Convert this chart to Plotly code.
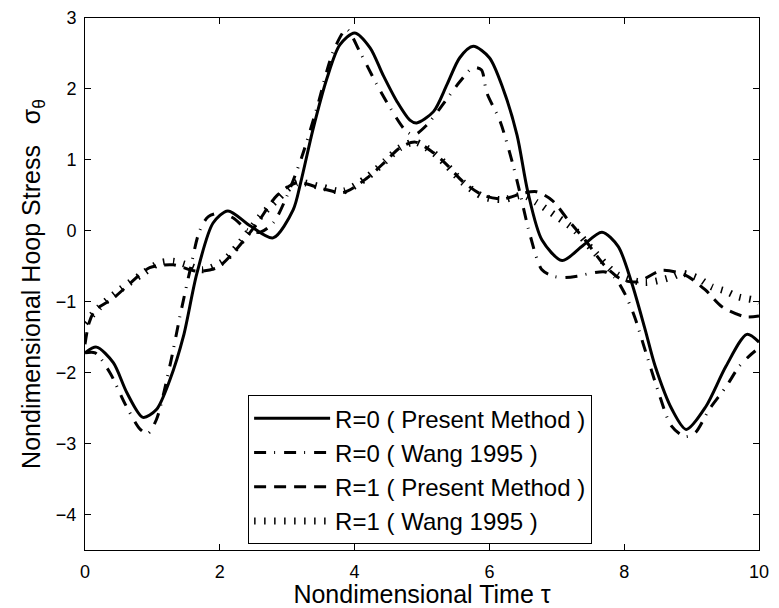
import plotly.graph_objects as go

# R=0 ( Present Method )
x_r0p = [0, 0.17, 0.42, 0.62, 0.86, 1.06, 1.26, 1.46, 1.66, 1.9, 2.12, 2.45, 2.79, 3.09, 3.2, 3.38, 3.59, 3.78, 4.0, 4.23, 4.42, 4.63, 4.82, 4.92, 5.17, 5.37, 5.56, 5.76, 6.0, 6.2, 6.41, 6.57, 6.78, 7.08, 7.37, 7.67, 7.91, 8.11, 8.31, 8.46, 8.71, 8.92, 9.21, 9.51, 9.82, 10]
y_r0p = [-1.72, -1.64, -1.86, -2.28, -2.63, -2.52, -2.1, -1.49, -0.6, 0.11, 0.28, 0.07, -0.1, 0.3, 0.68, 1.42, 2.15, 2.62, 2.79, 2.58, 2.2, 1.82, 1.56, 1.52, 1.68, 2.06, 2.44, 2.6, 2.44, 2.01, 1.35, 0.55, -0.13, -0.42, -0.22, -0.02, -0.22, -0.73, -1.39, -1.91, -2.52, -2.8, -2.48, -1.91, -1.46, -1.57]

# R=0 ( Wang 1995 )
x_r0w = [0, 0.15, 0.37, 0.6, 0.82, 0.93, 1.06, 1.26, 1.41, 1.56, 1.7, 1.83, 2.0, 2.2, 2.4, 2.6, 2.8, 3.0, 3.22, 3.44, 3.68, 3.88, 4.08, 4.33, 4.53, 4.75, 4.88, 5.07, 5.27, 5.56, 5.76, 5.88, 5.96, 6.16, 6.35, 6.45, 6.6, 6.78, 6.95, 7.1, 7.3, 7.5, 7.72, 7.86, 8.0, 8.15, 8.3, 8.5, 8.7, 8.9, 9.05, 9.26, 9.51, 9.7, 9.85, 10]
y_r0w = [-1.72, -1.72, -2.0, -2.45, -2.8, -2.86, -2.66, -1.9, -1.2, -0.55, 0.0, 0.2, 0.25, 0.18, 0.02, -0.02, 0.12, 0.5, 1.05, 1.73, 2.52, 2.84, 2.52, 2.06, 1.73, 1.42, 1.35, 1.49, 1.73, 2.1, 2.3, 2.27, 1.95, 1.54, 0.93, 0.55, -0.05, -0.55, -0.64, -0.66, -0.64, -0.6, -0.58, -0.66, -0.87, -1.2, -1.65, -2.25, -2.75, -2.9, -2.85, -2.52, -2.2, -1.92, -1.77, -1.65]

# R=1 ( Present Method )
x_r1p = [0, 0.06, 0.15, 0.42, 0.67, 0.96, 1.31, 1.66, 1.96, 2.2, 2.55, 2.85, 3.15, 3.5, 3.83, 4.18, 4.45, 4.67, 4.9, 5.17, 5.37, 5.61, 5.91, 6.2, 6.5, 6.7, 6.93, 7.17, 7.42, 7.72, 7.97, 8.2, 8.55, 8.9, 9.2, 9.45, 9.79, 10]
y_r1p = [-1.6, -1.3, -1.12, -0.95, -0.74, -0.52, -0.48, -0.57, -0.52, -0.31, 0.1, 0.5, 0.68, 0.6, 0.54, 0.74, 0.97, 1.17, 1.25, 1.1, 0.93, 0.69, 0.5, 0.45, 0.53, 0.55, 0.43, 0.15, -0.13, -0.5, -0.69, -0.72, -0.56, -0.62, -0.83, -1.07, -1.21, -1.2]

# R=1 ( Wang 1995 )
x_r1w = [0, 0.22, 0.52, 0.86, 1.11, 1.3, 1.51, 1.75, 2.05, 2.3, 2.6, 2.85, 3.15, 3.5, 3.83, 4.18, 4.45, 4.67, 4.9, 5.17, 5.37, 5.61, 5.91, 6.2, 6.5, 6.7, 7.0, 7.27, 7.57, 7.9, 8.31, 8.71, 8.86, 9.1, 9.3, 9.5, 9.69, 9.9, 10]
y_r1w = [-1.3, -1.07, -0.83, -0.6, -0.45, -0.43, -0.48, -0.55, -0.43, -0.17, 0.2, 0.44, 0.68, 0.62, 0.56, 0.75, 0.98, 1.17, 1.25, 1.1, 0.92, 0.68, 0.48, 0.44, 0.5, 0.4, 0.2, 0.01, -0.31, -0.62, -0.73, -0.65, -0.6, -0.67, -0.79, -0.85, -0.93, -0.97, -1.0]

names = ["R=0 ( Present Method )", "R=0 ( Wang 1995 )", "R=1 ( Present Method )", "R=1 ( Wang 1995 )"]

x_ticks = [0, 2, 4, 6, 8, 10]
y_ticks = [-4, -3, -2, -1, 0, 1, 2, 3]

FONT = "Liberation Sans, Arial, sans-serif"

fig = go.Figure()
series = [
    (x_r0p, y_r0p, dict(color="black", width=3, dash="solid")),
    (x_r0w, y_r0w, dict(color="black", width=3, dash="12px,8px,1px,9px")),
    (x_r1p, y_r1p, dict(color="black", width=3, dash="12px,8px")),
    (x_r1w, y_r1w, dict(color="black", width=7, dash="1.5px,8.5px")),
]
for (xs, ys, ln), nm in zip(series, names):
    fig.add_trace(go.Scatter(x=xs, y=ys, mode="lines", name=nm,
                             line=dict(shape="spline", smoothing=0.8, **ln)))

axis_common = dict(
    showgrid=False, zeroline=False, showline=True, linecolor="black", linewidth=1,
    mirror="ticks", ticks="inside", ticklen=6, tickcolor="black", tickwidth=1,
    tickfont=dict(family=FONT, size=18, color="black"), automargin=False,
)

# page body has an 8px margin, so the figure is sized to fit the 779x608 window
fig.update_layout(
    width=771, height=600,
    margin=dict(l=77, r=20, t=10, b=58),
    paper_bgcolor="white", plot_bgcolor="white",
    font=dict(family=FONT, color="black"),
    xaxis=dict(range=[0, 10], tickvals=x_ticks, ticklabelstandoff=5,
               title=dict(text="Nondimensional Time τ", font=dict(family=FONT, size=25), standoff=0),
               **axis_common),
    yaxis=dict(range=[-4.5, 3], tickvals=y_ticks, ticklabelstandoff=4,
               title=dict(text="Nondimensional Hoop Stress   σ<sub>θ</sub>", font=dict(family=FONT, size=25), standoff=8),
               **axis_common),
    legend=dict(x=0.242, y=0.291, xanchor="left", yanchor="top",
                bordercolor="black", borderwidth=1, bgcolor="white",
                font=dict(family=FONT, size=24), itemwidth=76, tracegroupgap=0),
    showlegend=True,
)

fig.write_html("out.html")
